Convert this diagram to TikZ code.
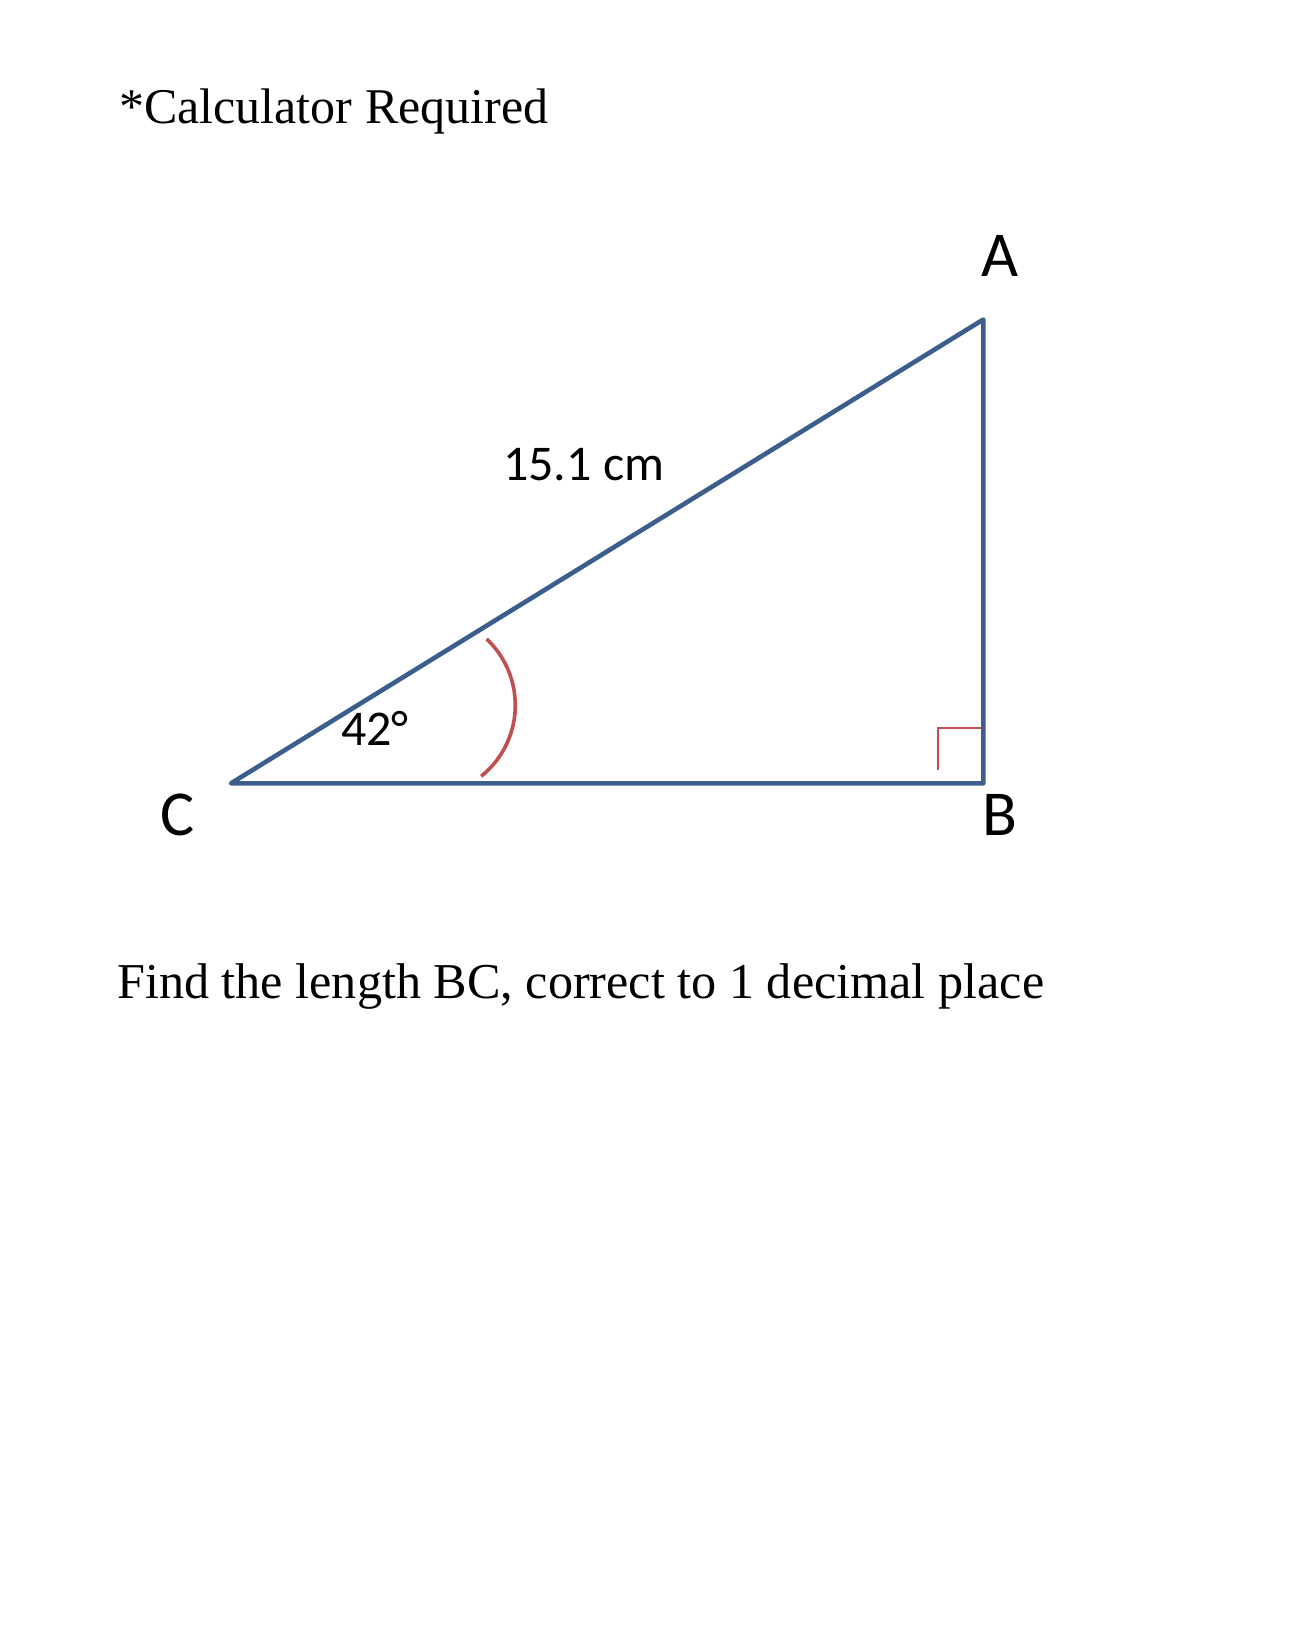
\documentclass[tikz,border=0pt]{standalone}
\usepackage{fontspec}
\setmainfont{Liberation Serif}
\newfontfamily\calibri{Carlito}
\definecolor{triblue}{HTML}{3B5E8C}
\definecolor{arcred}{HTML}{C0504D}
\begin{document}
\begin{tikzpicture}[x=1pt,y=-1pt,
  serifline/.style={anchor=base west,inner sep=0pt,font=\fontsize{50}{55}\selectfont},
  vlabel/.style={anchor=base,inner sep=0pt,font=\calibri\fontsize{64}{70}\selectfont},
  smalllabel/.style={anchor=base west,inner sep=0pt,font=\calibri\fontsize{50}{56}\selectfont},
  side/.style={draw=triblue,line width=4.6pt,line join=round},
  anglemark/.style={draw=arcred,line width=3.6pt},
  rightmark/.style={draw=arcred,line width=1.8pt}]
\useasboundingbox (0,0) rectangle (1298,1652);
\fill[white] (0,0) rectangle (1298,1652);
% title
\node[serifline] (title) at (119,123) {*Calculator Required};
% vertices
\coordinate (C) at (231,783.3);
\coordinate (B) at (983.3,783.3);
\coordinate (A) at (983.3,319.5);
% angle arc
\draw[anglemark] (486.7,639) arc[start angle=-46.7,end angle=51.3,radius=91];
% right angle marker
\coordinate (r1) at (938.3,770);
\coordinate (r2) at (938.3,728.3);
\coordinate (r3) at (981,728.3);
\draw[rightmark] (r1) -- (r2) -- (r3);
% triangle
\draw[side] (C) -- (A) -- (B) -- cycle;
% labels
\node[vlabel] (lA) at (1000,276.7) {A};
\node[vlabel] (lB) at (1000,835) {B};
\node[vlabel] (lC) at (177.5,835) {C};
\node[smalllabel] (ang) at (341,745) {42°};
\node[smalllabel] (hyp) at (503,480) {15.1 cm};
% question
\node[serifline,font=\fontsize{50.2}{56}\selectfont] (q) at (117,998) {Find the length BC, correct to 1 decimal place};
\end{tikzpicture}
\end{document}
